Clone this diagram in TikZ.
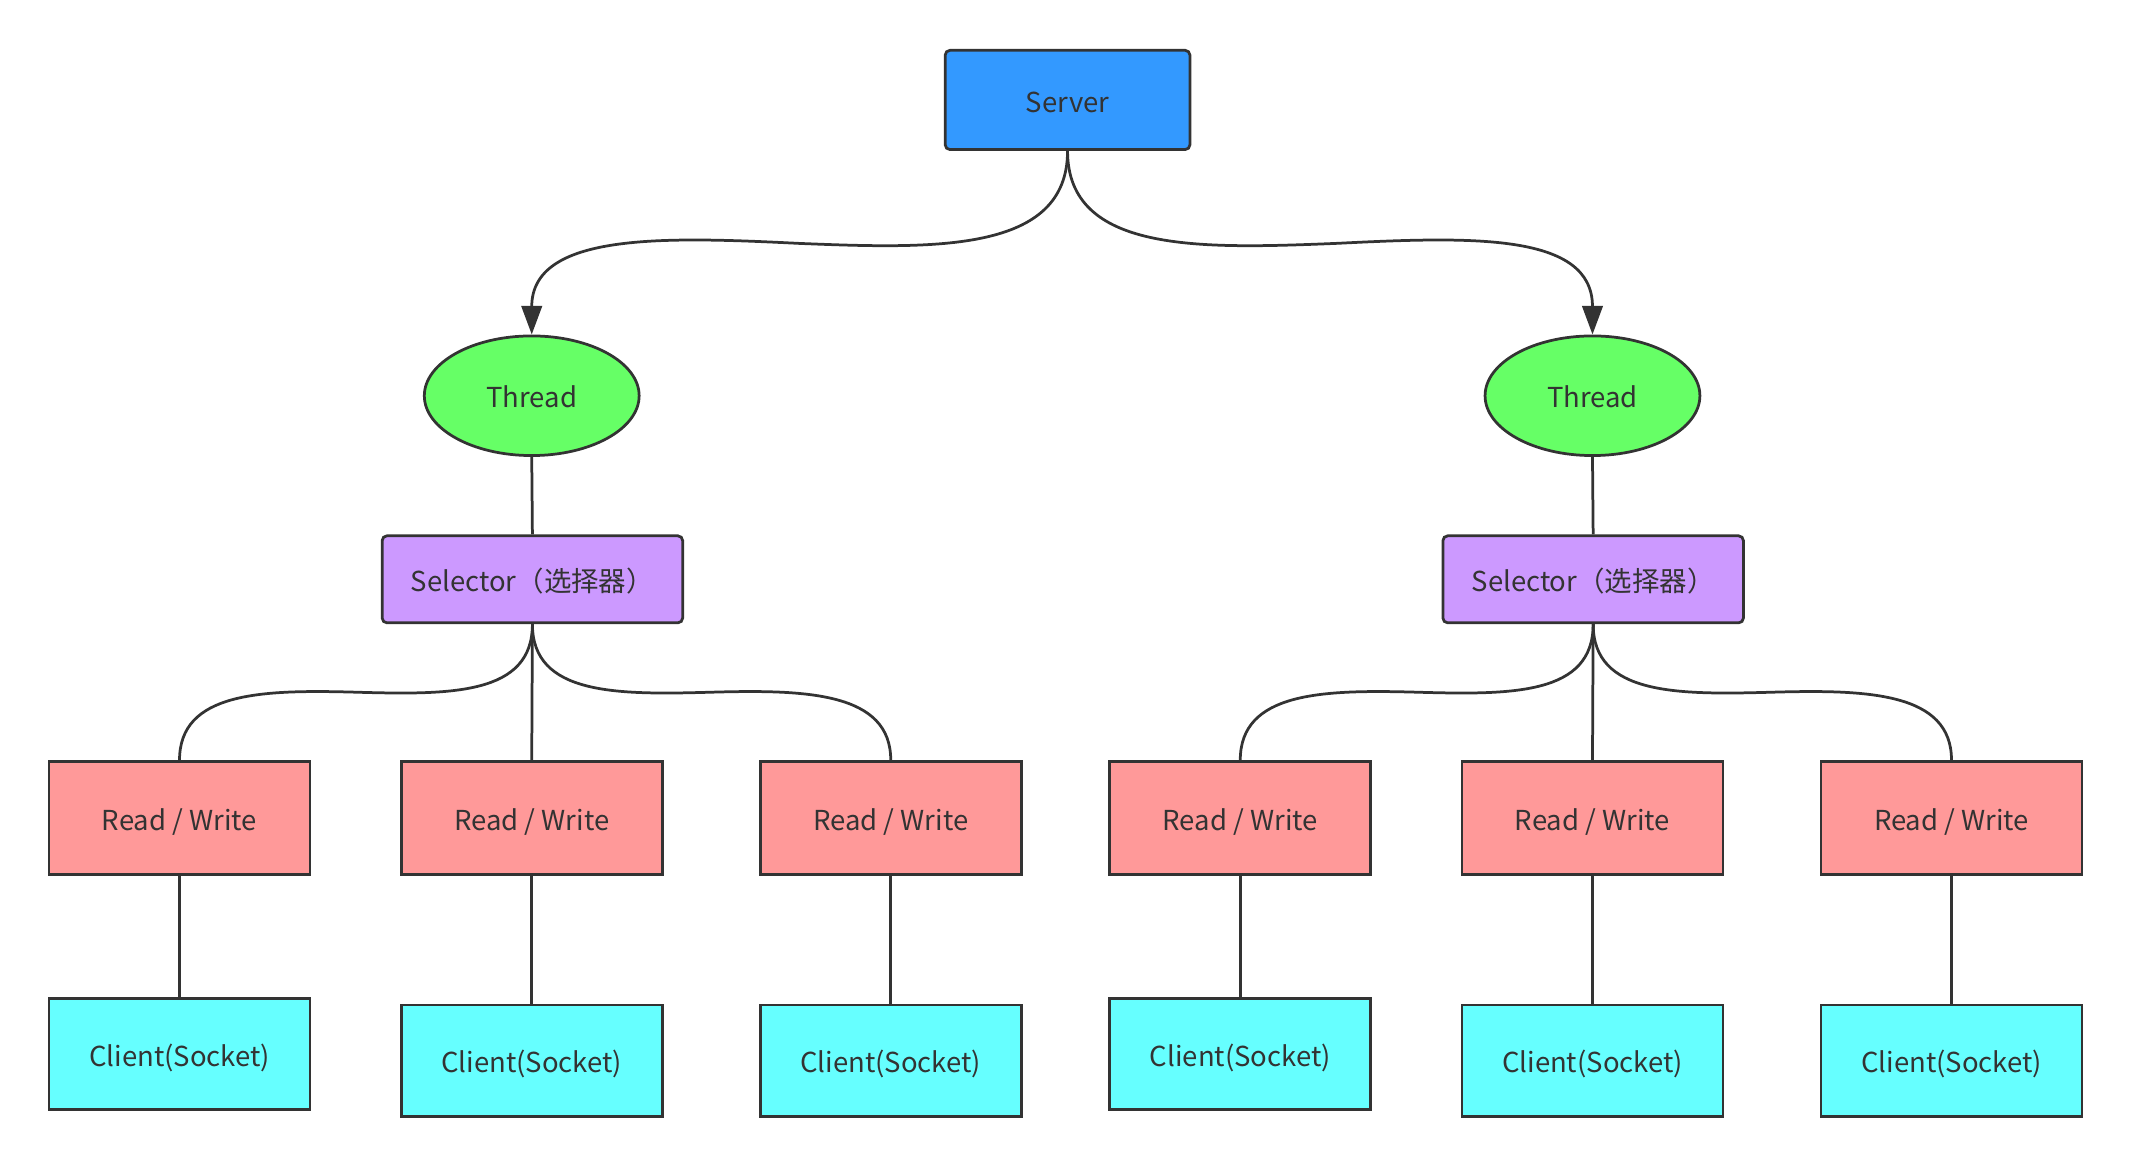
\documentclass[tikz,border=0pt]{standalone}
\usepackage{fontspec}
\setmainfont{Noto Sans CJK SC}
\usetikzlibrary{shapes.geometric,arrows.meta}

\definecolor{edge}{HTML}{333333}
\definecolor{srvblue}{HTML}{3399FF}
\definecolor{thrgreen}{HTML}{66FF66}
\definecolor{selpurple}{HTML}{CC99FF}
\definecolor{rwred}{HTML}{FF9999}
\definecolor{clicyan}{HTML}{66FFFF}

\tikzset{
	box/.style = {rectangle, draw = edge, line width = 1.15pt, text = edge,
		font = \fontsize{11.5}{14}\selectfont, text height = 0.36cm, text depth = 0cm},
	srvbox/.style = {box, fill = srvblue, rounded corners = 2pt,
		minimum width = 3.6cm, minimum height = 1.46cm},
	thrbox/.style = {box, ellipse, fill = thrgreen,
		minimum width = 3.16cm, minimum height = 1.76cm},
	selbox/.style = {box, fill = selpurple, rounded corners = 2pt,
		minimum width = 4.42cm, minimum height = 1.28cm},
	rwbox/.style = {box, fill = rwred,
		minimum width = 3.84cm, minimum height = 1.66cm},
	clibox/.style = {box, fill = clicyan,
		minimum width = 3.84cm, minimum height = 1.64cm},
	link/.style = {draw = edge, line width = 1.15pt},
	arr/.style = {link, -{Triangle[length = 0.42cm, width = 0.3cm]}}
}

\begin{document}
\begin{tikzpicture}[x = 0.02cm, y = -0.02cm]
\useasboundingbox (0,0) rectangle (1567,857.4);

% top
\node[srvbox] (s) at (785,73.5) {Server};

% threads
\node[thrbox] (t1) at (391,291) {Thread};
\node[thrbox] (t2) at (1171,291) {Thread};

% selectors
\node[selbox] (sel1) at (391.5,426) {Selector（选择器）};
\node[selbox] (sel2) at (1171.5,426) {Selector（选择器）};

% read / write
\node[rwbox] (rw1) at (132,601.5) {Read / Write};
\node[rwbox] (rw2) at (391,601.5) {Read / Write};
\node[rwbox] (rw3) at (655,601.5) {Read / Write};
\node[rwbox] (rw4) at (912,601.5) {Read / Write};
\node[rwbox] (rw5) at (1171,601.5) {Read / Write};
\node[rwbox] (rw6) at (1435,601.5) {Read / Write};

% clients
\node[clibox] (c1) at (132,775) {Client(Socket)};
\node[clibox] (c2) at (391,780) {Client(Socket)};
\node[clibox] (c3) at (655,780) {Client(Socket)};
\node[clibox] (c4) at (912,775) {Client(Socket)};
\node[clibox] (c5) at (1171,780) {Client(Socket)};
\node[clibox] (c6) at (1435,780) {Client(Socket)};

% bends
\coordinate (m1) at (588,179);
\coordinate (m2) at (982,179);
\coordinate (m3) at (262,509);
\coordinate (m4) at (523,509);
\coordinate (m5) at (1042,509);
\coordinate (m6) at (1303,509);

\draw[arr] (s.south) .. controls +(0,75) and +(100,4) .. (m1)
	.. controls +(-100,-5) and +(0,-75) .. (t1.north);
\draw[arr] (s.south) .. controls +(0,75) and +(-100,4) .. (m2)
	.. controls +(100,-5) and +(0,-75) .. (t2.north);

\draw[link] (t1.south) -- (sel1.north);
\draw[link] (t2.south) -- (sel2.north);

\draw[link] (sel1.south) .. controls +(0,52) and +(70,2) .. (m3)
	.. controls +(-70,-2) and +(0,-50) .. (rw1.north);
\draw[link] (sel1.south) -- (rw2.north);
\draw[link] (sel1.south) .. controls +(0,52) and +(-70,2) .. (m4)
	.. controls +(70,-2) and +(0,-50) .. (rw3.north);
\draw[link] (sel2.south) .. controls +(0,52) and +(70,2) .. (m5)
	.. controls +(-70,-2) and +(0,-50) .. (rw4.north);
\draw[link] (sel2.south) -- (rw5.north);
\draw[link] (sel2.south) .. controls +(0,52) and +(-70,2) .. (m6)
	.. controls +(70,-2) and +(0,-50) .. (rw6.north);

\draw[link] (rw1.south) -- (c1.north);
\draw[link] (rw2.south) -- (c2.north);
\draw[link] (rw3.south) -- (c3.north);
\draw[link] (rw4.south) -- (c4.north);
\draw[link] (rw5.south) -- (c5.north);
\draw[link] (rw6.south) -- (c6.north);
\end{tikzpicture}
\end{document}
